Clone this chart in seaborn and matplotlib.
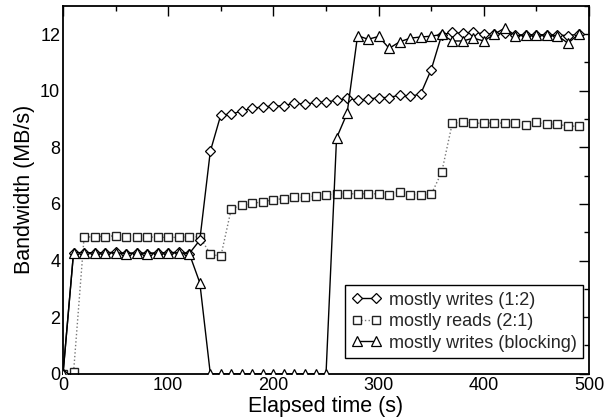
import numpy as np
import pandas as pd
import matplotlib
matplotlib.use("Agg")
import matplotlib.pyplot as plt
from matplotlib.ticker import MultipleLocator
import seaborn as sns

# ---- data ----
elapsed = list(range(0, 500, 10))

writes_12 = [0.0, 4.28, 4.28, 4.27, 4.27, 4.30, 4.25, 4.27, 4.25, 4.27, 4.27, 4.30, 4.25,
             4.72, 7.86, 9.15, 9.17, 9.29, 9.38, 9.43, 9.46, 9.47, 9.57, 9.52, 9.59,
             9.61, 9.66, 9.73, 9.67, 9.70, 9.76, 9.76, 9.85, 9.80, 9.89, 10.75, 11.98,
             12.06, 12.03, 12.07, 12.01, 12.00, 12.05, 11.97, 11.98, 11.98, 11.98, 11.97,
             11.95, 12.00]

reads_21 = [0.0, 0.05, 4.82, 4.85, 4.85, 4.88, 4.85, 4.85, 4.84, 4.82, 4.82, 4.82, 4.84,
            4.84, 4.23, 4.15, 5.84, 5.95, 6.02, 6.08, 6.15, 6.19, 6.23, 6.23, 6.29,
            6.32, 6.36, 6.36, 6.36, 6.36, 6.36, 6.33, 6.42, 6.33, 6.33, 6.34, 7.13,
            8.85, 8.90, 8.85, 8.86, 8.86, 8.86, 8.86, 8.80, 8.88, 8.82, 8.82, 8.75,
            8.75]

writes_blocking = [0.0, 4.28, 4.28, 4.27, 4.27, 4.28, 4.25, 4.27, 4.25, 4.27, 4.27, 4.28,
                   4.25, 3.22, 0.0, 0.0, 0.0, 0.0, 0.0, 0.0, 0.0, 0.0, 0.0, 0.0, 0.0,
                   0.0, 8.33, 9.20, 11.95, 11.82, 11.92, 11.50, 11.73, 11.86, 11.90,
                   11.93, 11.99, 11.76, 11.76, 11.86, 11.76, 12.00, 12.22, 11.95, 11.97,
                   11.97, 11.97, 11.95, 11.68, 12.00]

labels = ["mostly writes (1:2)", "mostly reads (2:1)", "mostly writes (blocking)"]
x_ticks = [0, 100, 200, 300, 400, 500]
y_ticks = [0, 2, 4, 6, 8, 10, 12]

# ---- figure ----
sns.set_theme(style="white")
plt.rcParams["font.family"] = ["Liberation Sans", "DejaVu Sans"]

fig = plt.figure(figsize=(6.06, 4.2), dpi=100)
ax = fig.add_axes([0.104, 0.110, 0.868, 0.876])

df = pd.DataFrame({"t": elapsed, "w12": writes_12, "r21": reads_21, "wb": writes_blocking})

sns.lineplot(data=df, x="t", y="w12", ax=ax, color="black", linewidth=1.0,
             marker="D", markersize=5.2, markerfacecolor="white",
             markeredgecolor="black", markeredgewidth=0.9, label=labels[0], zorder=3)
sns.lineplot(data=df, x="t", y="r21", ax=ax, color="#777777", linewidth=1.0,
             linestyle=":", marker="s", markersize=6.2, markerfacecolor="white",
             markeredgecolor="#222222", markeredgewidth=1.0, label=labels[1], zorder=2)
sns.lineplot(data=df, x="t", y="wb", ax=ax, color="black", linewidth=1.0,
             marker="^", markersize=6.5, markerfacecolor="white",
             markeredgecolor="black", markeredgewidth=0.9, label=labels[2], zorder=4)

ax.set_xlim(0, 500)
ax.set_ylim(0, 13)
ax.set_xticks(x_ticks)
ax.set_yticks(y_ticks)
ax.xaxis.set_minor_locator(MultipleLocator(50))
ax.yaxis.set_minor_locator(MultipleLocator(1))
ax.tick_params(which="both", direction="in", top=True, right=True, colors="black",
               labelsize=13, pad=2)
ax.tick_params(which="major", length=7, width=1.0)
ax.tick_params(which="minor", length=3.5, width=1.0)
for s in ax.spines.values():
    s.set_color("black")
    s.set_linewidth(1.3)

ax.set_xlabel("Elapsed time (s)", fontsize=15.5, labelpad=2, color="black")
ax.set_ylabel("Bandwidth (MB/s)", fontsize=15.5, labelpad=4, color="black")

handles, _ = ax.get_legend_handles_labels()
leg = ax.legend(handles=handles, labels=labels, loc="lower right",
                bbox_to_anchor=(0.989, 0.043), borderaxespad=0, numpoints=2,
                fontsize=13, frameon=True, fancybox=False, framealpha=1,
                edgecolor="black", handlelength=1.7, handletextpad=0.4,
                borderpad=0.35, labelspacing=0.25)
leg.get_frame().set_linewidth(1.0)

fig.savefig("out.png", dpi=100)
